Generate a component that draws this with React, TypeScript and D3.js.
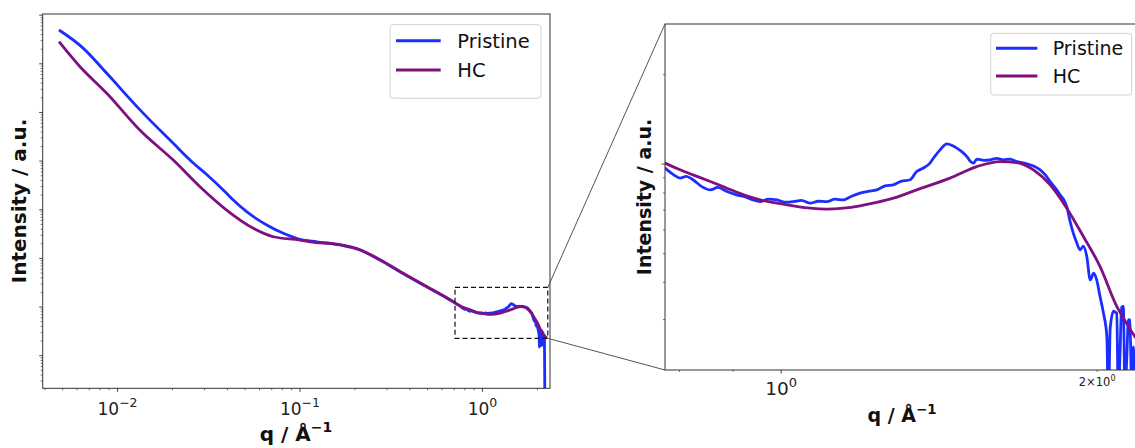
import React from 'react';
import * as d3 from 'd3';

// ---------- data ----------
const PRISTINE_Q = [
  0.00478, 0.0065, 0.00873, 0.01328, 0.0202, 0.026, 0.0308, 0.0396, 0.0431, 0.051, 0.0657, 0.081, 0.1,
  0.1236, 0.1656, 0.2133, 0.2744, 0.353, 0.494, 0.664,
  0.775, 0.79, 0.801, 0.812, 0.824, 0.84, 0.856, 0.87, 0.888, 0.905, 0.921, 0.938, 0.955, 0.972, 0.991,
  1.008, 1.027, 1.045, 1.066, 1.085, 1.105, 1.125, 1.146, 1.167, 1.189, 1.21, 1.233, 1.256, 1.279, 1.3,
  1.327, 1.346, 1.366, 1.386, 1.4, 1.417, 1.438, 1.455, 1.47, 1.487, 1.503, 1.515, 1.525, 1.536, 1.56,
  1.581, 1.605, 1.628, 1.652, 1.677, 1.7, 1.726, 1.745, 1.765, 1.785, 1.804, 1.825, 1.844, 1.858, 1.871,
  1.885, 1.898, 1.91, 1.927, 1.94, 1.955, 1.97, 1.985, 1.998, 2.013, 2.028, 2.043, 2.05, 2.058, 2.073,
  2.088, 2.095, 2.103, 2.11, 2.118, 2.126, 2.134, 2.142, 2.149, 2.157, 2.165, 2.173, 2.185, 2.2,
];
const PRISTINE_I = [
  4.95e6, 2.08e6, 6.38e5, 1.13e5, 2.32e4, 9140, 5300, 2180, 1585, 912, 486, 328, 247,
  220, 189, 149, 92.7, 53.3, 26.2, 14,
  9.69, 9.2, 8.97, 9.1, 8.86, 8.4, 8.19, 8.35, 8.09, 7.9, 7.78, 7.6, 7.48, 7.62, 7.58,
  7.45, 7.48, 7.55, 7.39, 7.5, 7.48, 7.62, 7.58, 7.8, 7.99, 8.1, 8.19, 8.45, 8.52, 8.75,
  8.86, 9.44, 9.7, 10.08, 10.6, 11.17, 11.7, 11.55, 11.32, 11.0, 10.6, 10.2, 10.08, 10.4, 10.3,
  10.34, 10.45, 10.34, 10.4, 10.2, 10.1, 9.95, 9.8, 9.57, 9.2, 8.74, 8.3, 7.88, 7.6, 7.2,
  6.4, 5.86, 5.5, 5.15, 5.3, 4.89, 4.08, 4.3, 4.08, 3.58, 3.15, 2.63, 1.5, 2.8, 3.2,
  3.15, 1.6, 2.32, 3.3, 3.32, 1.7, 2.19, 3.0, 2.99, 1.8, 2.43, 1.5, 2.6, 0.05,
];
const HC_Q = [
  0.00478, 0.00623, 0.00873, 0.01328, 0.0202, 0.0283, 0.0396, 0.0555, 0.0714, 0.1, 0.1135,
  0.1656, 0.2133, 0.2744, 0.353, 0.494, 0.664,
  0.775, 0.801, 0.824, 0.856, 0.888, 0.921, 0.955, 0.991, 1.027, 1.066, 1.105, 1.146, 1.189, 1.233,
  1.279, 1.346, 1.448, 1.536, 1.617, 1.677, 1.739, 1.804, 1.871, 1.941, 2.013, 2.088, 2.134, 2.173,
  2.22, 2.26,
];
const HC_I = [
  2.85e6, 8.72e5, 2.48e5, 4.3e4, 1.05e4, 2978, 988, 416, 279, 239, 220,
  192, 151, 94, 54, 26.5, 14.2,
  10.08, 9.57, 9.2, 8.74, 8.3, 7.88, 7.58, 7.39, 7.24, 7.11, 7.06, 7.11, 7.24, 7.43,
  7.68, 8.19, 8.97, 9.81, 10.2, 10.12, 9.57, 8.52, 7.11, 5.7, 4.52, 3.32, 2.91, 2.63,
  2.42, 2.3,
];
const SERIES_NAMES = ['Pristine', 'HC'];
const SERIES_COLORS = ['#1a2eff', '#80107f'];

const MAIN_X_DOMAIN = [0.00389, 2.344];
const MAIN_Y_DOMAIN = [0.214, 1.057e7];
const INSET_X_DOMAIN = [0.775, 2.2];
const INSET_Y_DOMAIN = [2.03, 29.6];
const ZOOM_BOX_Q = [0.707, 2.28];
const ZOOM_BOX_I = [2.28, 25.4];

const MAIN_X_TICKS = [0.01, 0.1, 1];
const MAIN_X_TICK_LABELS = [['10', '−2'], ['10', '−1'], ['10', '0']];
const INSET_X_TICKS = [1, 2];
const INSET_X_TICK_LABELS = [['10', '0'], ['2×10', '0']];

const X_LABEL = ['q / Å', '−1'];
const Y_LABEL = 'Intensity / a.u.';
const FONT = 'DejaVu Sans, sans-serif';

function logTicks(domain: number[]) {
  const lo = Math.min(domain[0], domain[1]);
  const hi = Math.max(domain[0], domain[1]);
  const out: { v: number; major: boolean }[] = [];
  for (let k = Math.floor(Math.log10(lo)) - 1; k <= Math.ceil(Math.log10(hi)); k++) {
    for (let m = 1; m <= 9; m++) {
      const v = m * Math.pow(10, k);
      if (v >= lo * 0.9999 && v <= hi * 1.0001) out.push({ v, major: m === 1 });
    }
  }
  return out;
}

function zip(q: number[], I: number[]) {
  return q.map((v, i) => [v, I[i]] as [number, number]);
}

const SPINE = '#333';

function Panel(props: any) {
  const { id, x, y, tickLabels, tickVals, labelFont, supFont, labelBaseline, supDy, smallLabels } = props;
  const [x0, x1] = x.range();
  const [y0, y1] = y.range();
  const line = d3.line<[number, number]>().x(d => x(d[0])).y(d => y(d[1])).curve(d3.curveMonotoneX);
  const xt = logTicks(x.domain());
  const yt = logTicks(y.domain());
  return (
    <g>
      <defs>
        <clipPath id={id}>
          <rect x={x0} y={y1} width={x1 - x0} height={y0 - y1} />
        </clipPath>
      </defs>
      <g clipPath={`url(#${id})`}>
        <path d={line(zip(PRISTINE_Q, PRISTINE_I)) || ''} fill="none" stroke={SERIES_COLORS[0]} strokeWidth={2.8} strokeLinejoin="round" />
        <path d={line(zip(HC_Q, HC_I)) || ''} fill="none" stroke={SERIES_COLORS[1]} strokeWidth={2.8} strokeLinejoin="round" />
      </g>
      <rect x={x0} y={y1} width={x1 - x0} height={y0 - y1} fill="none" stroke={SPINE} strokeWidth={1} />
      {xt.map((t, i) => (
        <line key={'xt' + i} x1={x(t.v)} x2={x(t.v)} y1={y0} y2={y0 + (t.major ? 3.5 : 2)} stroke={SPINE} strokeWidth={t.major ? 0.9 : 0.7} />
      ))}
      {yt.map((t, i) => (
        <line key={'yt' + i} x1={x0} x2={x0 - (t.major ? 3.5 : 2)} y1={y(t.v)} y2={y(t.v)} stroke={SPINE} strokeWidth={t.major ? 0.9 : 0.7} />
      ))}
      {tickVals.map((v: number, i: number) => {
        const small = smallLabels && smallLabels[i];
        return (
          <text key={'xl' + i} x={x(v)} y={small ? small.baseline : labelBaseline} textAnchor="middle"
            fontFamily={FONT} fontSize={small ? small.font : labelFont} fill="#222">
            <tspan>{tickLabels[i][0]}</tspan>
            <tspan dy={small ? small.supDy : supDy} fontSize={small ? small.supFont : supFont}>{tickLabels[i][1]}</tspan>
          </text>
        );
      })}
    </g>
  );
}

function Legend(props: any) {
  const { bx, by, bw, bh, lx0, lx1, ly, tx, font } = props;
  return (
    <g>
      <rect x={bx} y={by} width={bw} height={bh} rx={3} fill="#fff" fillOpacity={0.85} stroke="#d0d0d0" strokeWidth={1} />
      {SERIES_NAMES.map((n, i) => (
        <g key={n}>
          <line x1={lx0} x2={lx1} y1={ly[i]} y2={ly[i]} stroke={SERIES_COLORS[i]} strokeWidth={3} />
          <text x={tx} y={ly[i] + font * 0.36} fontFamily={FONT} fontSize={font} fill="#111">{n}</text>
        </g>
      ))}
    </g>
  );
}

export default function App() {
  const xMain = d3.scaleLog().domain(MAIN_X_DOMAIN).range([42.7, 550]);
  const yMain = d3.scaleLog().domain(MAIN_Y_DOMAIN).range([388.3, 14]);
  const xIn = d3.scaleLog().domain(INSET_X_DOMAIN).range([665, 1140.6]);
  const yIn = d3.scaleLog().domain(INSET_Y_DOMAIN).range([370, 24]);

  const bxL = xMain(ZOOM_BOX_Q[0]);
  const bxR = xMain(ZOOM_BOX_Q[1]);
  const byT = yMain(ZOOM_BOX_I[1]);
  const byB = yMain(ZOOM_BOX_I[0]);

  return (
    <svg width={1135} height={448} style={{ position: 'absolute', left: 0, top: 0, background: '#fff' }}>
      <rect x={0} y={0} width={1135} height={448} fill="#fff" />
      <Panel id="clipMain" x={xMain} y={yMain} tickVals={MAIN_X_TICKS} tickLabels={MAIN_X_TICK_LABELS}
        labelFont={17} supFont={12.5} labelBaseline={415} supDy={-8} />
      <Panel id="clipInset" x={xIn} y={yIn} tickVals={INSET_X_TICKS} tickLabels={INSET_X_TICK_LABELS}
        labelFont={18.5} supFont={13} labelBaseline={395} supDy={-8.5}
        smallLabels={[null, { font: 11.5, supFont: 8, baseline: 386, supDy: -5 }]} />

      {/* zoom box + connectors */}
      <rect x={bxL} y={byT} width={bxR - bxL} height={byB - byT} fill="none" stroke="#111" strokeWidth={1.2} strokeDasharray="5,3" />
      <line x1={bxR} y1={byT} x2={xIn.range()[0]} y2={yIn.range()[1]} stroke="#555" strokeWidth={1} />
      <line x1={bxR} y1={byB} x2={xIn.range()[0]} y2={yIn.range()[0]} stroke="#555" strokeWidth={1} />

      {/* axis labels */}
      <text x={296} y={441} textAnchor="middle" fontFamily={FONT} fontWeight="bold" fontSize={20} fill="#111">
        <tspan>{X_LABEL[0]}</tspan><tspan dy={-9} fontSize={14}>{X_LABEL[1]}</tspan>
      </text>
      <text x={902} y={422} textAnchor="middle" fontFamily={FONT} fontWeight="bold" fontSize={19} fill="#111">
        <tspan>{X_LABEL[0]}</tspan><tspan dy={-8.5} fontSize={13.3}>{X_LABEL[1]}</tspan>
      </text>
      <text transform="translate(26,201) rotate(-90)" textAnchor="middle" fontFamily={FONT} fontWeight="bold" fontSize={20} fill="#111">{Y_LABEL}</text>
      <text transform="translate(651,197) rotate(-90)" textAnchor="middle" fontFamily={FONT} fontWeight="bold" fontSize={19} fill="#111">{Y_LABEL}</text>

      <Legend bx={390} by={24.7} bw={151} bh={73.5} lx0={396} lx1={440.7} ly={[40.7, 70]} tx={457.3} font={19.5} />
      <Legend bx={990.7} by={33.3} bw={141} bh={61.7} lx0={996} lx1={1037.3} ly={[48.3, 76]} tx={1052.7} font={19} />
    </svg>
  );
}
